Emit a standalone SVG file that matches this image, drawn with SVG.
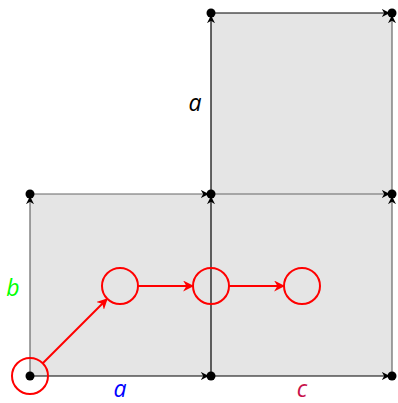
<svg xmlns="http://www.w3.org/2000/svg" width="398" height="403" viewBox="0 0 398 403">
<defs>
<style>
.sq{fill:#e5e5e5;stroke:none}
.eb{stroke:#000;stroke-width:1.2;fill:none;marker-end:url(#ah)}
.eg{stroke:#666;stroke-width:1.2;fill:none;marker-end:url(#ah)}
.dot{fill:#000}
.rc{fill:none;stroke:#f00;stroke-width:2}
.ra{stroke:#f00;stroke-width:2;fill:none;marker-end:url(#rh)}
.lbl{font-family:"Open Sans","DejaVu Sans",sans-serif;font-style:italic;font-size:23px;text-anchor:middle}
</style>
<marker id="ah" viewBox="0 0 10 10" refX="9" refY="5" markerWidth="8" markerHeight="8" markerUnits="userSpaceOnUse" orient="auto">
<path d="M0,0 L10,5 L0,10 L3,5 Z" fill="#000"/>
</marker>
<marker id="rh" viewBox="0 0 10 10" refX="9" refY="5" markerWidth="11" markerHeight="11" markerUnits="userSpaceOnUse" orient="auto">
<path d="M0,0 L10,5 L0,10 L3,5 Z" fill="#f00"/>
</marker>
</defs>
<g id="faces">
<rect class="sq" x="30" y="194" width="181" height="182"/>
<rect class="sq" x="211" y="194" width="181" height="182"/>
<rect class="sq" x="211" y="13" width="181" height="181"/>
</g>
<g id="connectors">
<line class="eb" x1="30" y1="376" x2="208" y2="376"/>
<line class="eb" x1="211" y1="376" x2="389" y2="376"/>
<line class="eg" x1="30" y1="194" x2="208" y2="194"/>
<line class="eg" x1="211" y1="194" x2="389" y2="194"/>
<line class="eb" x1="211" y1="13" x2="389" y2="13"/>
<line class="eg" x1="30" y1="376" x2="30" y2="197"/>
<line class="eb" x1="211" y1="376" x2="211" y2="197"/>
<line class="eb" x1="211" y1="194" x2="211" y2="16"/>
<line class="eg" x1="392" y1="376" x2="392" y2="197"/>
<line class="eg" x1="392" y1="194" x2="392" y2="16"/>
<line class="ra" x1="43" y1="363" x2="107" y2="299"/>
<line class="ra" x1="138" y1="286" x2="193" y2="286"/>
<line class="ra" x1="229" y1="286" x2="284" y2="286"/>
</g>
<g id="vertices">
<circle class="dot" cx="30" cy="376" r="4.5"/>
<circle class="dot" cx="211" cy="376" r="4.5"/>
<circle class="dot" cx="392" cy="376" r="4.5"/>
<circle class="dot" cx="30" cy="194" r="4.5"/>
<circle class="dot" cx="211" cy="194" r="4.5"/>
<circle class="dot" cx="392" cy="194" r="4.5"/>
<circle class="dot" cx="211" cy="13" r="4.5"/>
<circle class="dot" cx="392" cy="13" r="4.5"/>
</g>
<g id="node-1"><circle class="rc" cx="30" cy="376" r="18"/></g>
<g id="node-2"><circle class="rc" cx="120" cy="286" r="18"/></g>
<g id="node-3"><circle class="rc" cx="211" cy="286" r="18"/></g>
<g id="node-4"><circle class="rc" cx="302" cy="286" r="18"/></g>
<g id="labels">
<text class="lbl" x="120" y="397" fill="#0000ff">a</text>
<text class="lbl" x="302" y="397" fill="#c8104a">c</text>
<text class="lbl" x="13" y="296" fill="#00ff00">b</text>
<text class="lbl" x="195" y="111" fill="#000">a</text>
</g>
</svg>
